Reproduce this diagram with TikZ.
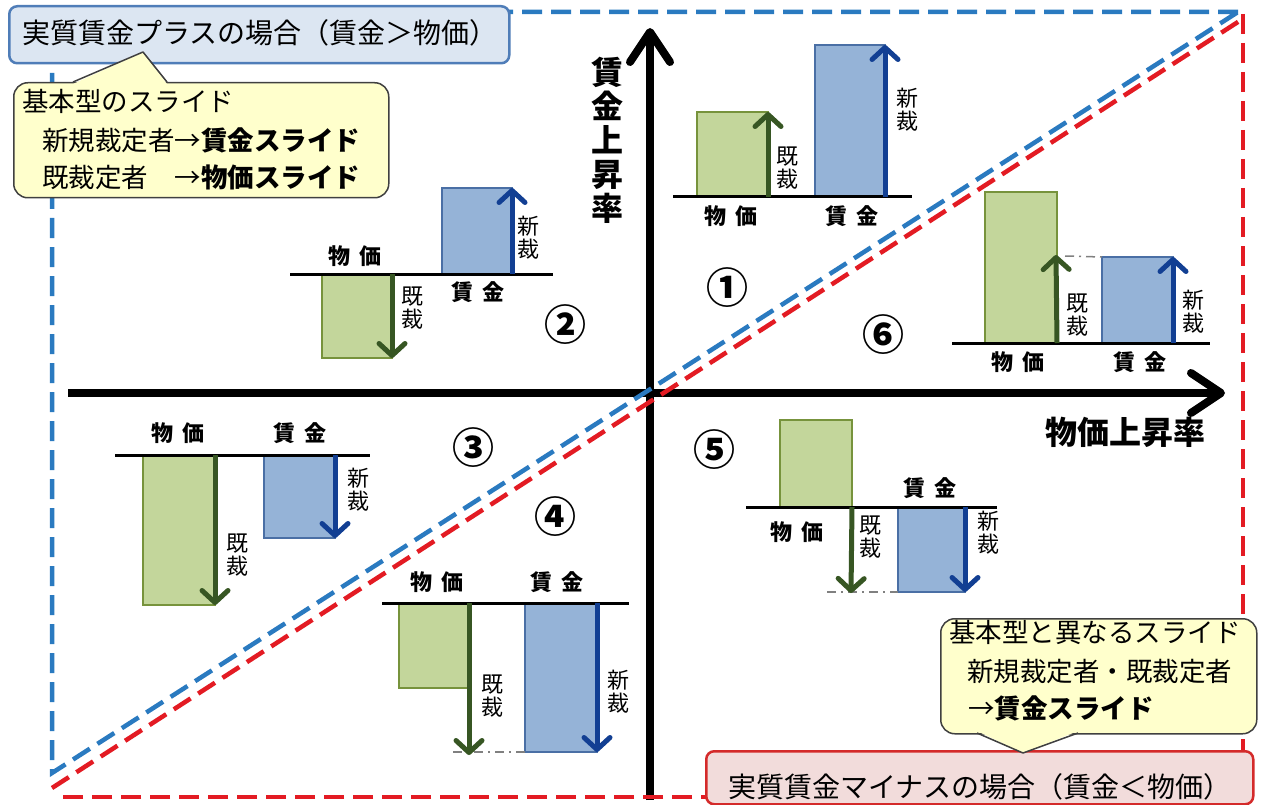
\documentclass[tikz,border=0pt]{standalone}
\usepackage{fontspec}
\setmainfont{Noto Sans CJK JP}
\usetikzlibrary{arrows.meta}
\definecolor{gfill}{HTML}{C3D69B}
\definecolor{gline}{HTML}{77933C}
\definecolor{garr}{HTML}{375623}
\definecolor{bfill}{HTML}{95B3D7}
\definecolor{bline}{HTML}{4A6FA5}
\definecolor{barr}{HTML}{123F93}
\definecolor{dblue}{HTML}{2A7AC0}
\definecolor{dred}{HTML}{E31B23}
\definecolor{boxblue}{HTML}{DCE6F2}
\definecolor{boxblueline}{HTML}{4F7DB8}
\definecolor{callfill}{HTML}{FFFFCC}
\definecolor{callline}{HTML}{404040}
\definecolor{pinkfill}{HTML}{F2DCDB}
\definecolor{pinkline}{HTML}{D42A2A}
\tikzset{
  gbar/.style={fill=gfill, draw=gline, line width=2.5, inner sep=0, outer sep=0},
  bbar/.style={fill=bfill, draw=bline, line width=1.5, inner sep=0, outer sep=0},
  garrow/.style={draw=garr, line width=5, -{Straight Barb[length=12pt,width=26pt,round]}},
  barrow/.style={draw=barr, line width=5, -{Straight Barb[length=12pt,width=26pt,round]}},
  baseln/.style={line width=3, black},
  refln/.style={gray, line width=1.5, dash pattern=on 9pt off 5pt on 2pt off 5pt},
  clbl/.style={font=\bfseries\fontsize{22}{22}\selectfont, inner sep=0},
  vlbl/.style={font=\fontsize{22}{23}\selectfont, align=center, inner sep=0},
  num/.style={font=\bfseries\fontsize{42}{42}\selectfont, inner sep=0},
  axis/.style={line width=8, -{Straight Barb[length=30pt,width=40pt,round]}},
  axlbl/.style={font=\bfseries\fontsize{32}{34}\selectfont, align=center, inner sep=0},
  callout/.style={fill=callfill, draw=callline, line width=1.5, rounded corners=14, inner sep=0},
  ctext/.style={font=\fontsize{26.5}{30}\selectfont, inner sep=0, anchor=west},
  titlebox/.style={rounded corners=8, line width=2.5, inner sep=0},
  ttext/.style={font=\fontsize{28}{30}\selectfont, inner sep=0},
  bluedash/.style={dblue, line width=4.5, dash pattern=on 20pt off 9pt},
  reddash/.style={dred, line width=4.5, dash pattern=on 20pt off 9pt},
}
\begin{document}
\begin{tikzpicture}[x=1pt,y=-1pt]
\useasboundingbox (0,0) rectangle (1266,805);
\fill[white] (0,0) rectangle (1266,805);

% main axes
\coordinate (xl) at (68,393);
\coordinate (xr) at (1225,393);
\coordinate (yb) at (650,800);
\coordinate (yt) at (650,28);
\draw[axis] (xl) -- (xr);
\draw[axis] (yb) -- (yt);
\node[axlbl] (ylab) at (607,140) {賃\\金\\上\\昇\\率};
\node[axlbl] (xlab) at (1125,432) {物価上昇率};

% dashed triangles
\draw[bluedash] (1238,12) -- (52,12) -- (52,773) -- cycle;
\draw[reddash] (1243,14) -- (1243,797) -- (60,797);
\draw[reddash] (52,788) -- (1241,20);

% quadrant numbers
\node[num] (n1) at (727,288) {①};
\node[num] (n2) at (565,325) {②};
\node[num] (n3) at (473,448) {③};
\node[num] (n4) at (555,517) {④};
\node[num] (n5) at (714,450) {⑤};
\node[num] (n6) at (883,335) {⑥};

% chart 1
\node[gbar, minimum width=71, minimum height=85, anchor=south west] (g1) at (697,197) {};
\node[bbar, minimum width=70, minimum height=152, anchor=south west] (b1) at (815,197) {};
\draw[baseln] (673,197) -- (912,197);
\draw[garrow] (g1.south east) -- (g1.north east);
\draw[barrow] (b1.south east) -- (b1.north east);
\node[clbl] (l1a) at (731,216) {物\hspace{9pt}価};
\node[clbl] (l1b) at (852,216) {賃\hspace{9pt}金};
\node[vlbl] (v1a) at (787,168) {既\\裁};
\node[vlbl] (v1b) at (907,110) {新\\裁};

% chart 2
\node[gbar, minimum width=70, minimum height=84, anchor=north west] (g2) at (322,274) {};
\node[bbar, minimum width=70, minimum height=86, anchor=south west] (b2) at (442,274) {};
\draw[baseln] (290,274) -- (553,274);
\draw[garrow] (g2.north east) -- (g2.south east);
\draw[barrow] (b2.south east) -- (b2.north east);
\node[clbl] (l2a) at (355,256) {物\hspace{9pt}価};
\node[clbl] (l2b) at (478,292) {賃\hspace{9pt}金};
\node[vlbl] (v2a) at (412,308) {既\\裁};
\node[vlbl] (v2b) at (528,238) {新\\裁};

% chart 3
\node[gbar, minimum width=72, minimum height=150, anchor=north west] (g3) at (143,455) {};
\node[bbar, minimum width=71, minimum height=83, anchor=north west] (b3) at (264,455) {};
\draw[baseln] (115,455) -- (370,455);
\draw[garrow] (g3.north east) -- (g3.south east);
\draw[barrow] (b3.north east) -- (b3.south east);
\node[clbl] (l3a) at (178,433) {物\hspace{9pt}価};
\node[clbl] (l3b) at (300,433) {賃\hspace{9pt}金};
\node[vlbl] (v3a) at (237,555) {既\\裁};
\node[vlbl] (v3b) at (358,490) {新\\裁};

% chart 4
\node[gbar, minimum width=70, minimum height=85, anchor=north west] (g4) at (399,603) {};
\node[bbar, minimum width=72, minimum height=149, anchor=north west] (b4) at (525,603) {};
\coordinate (g4end) at (469,755);
\coordinate (r4) at (453,752);
\draw[refln] (r4) -- (b4.south west);
\draw[baseln] (382,603) -- (629,603);
\draw[garrow] (g4.north east) -- (g4end);
\draw[barrow] (b4.north east) -- (b4.south east);
\node[clbl] (l4a) at (437,582) {物\hspace{9pt}価};
\node[clbl] (l4b) at (557,582) {賃\hspace{9pt}金};
\node[vlbl] (v4a) at (492,696) {既\\裁};
\node[vlbl] (v4b) at (618,692) {新\\裁};

% chart 5
\node[gbar, minimum width=72, minimum height=87, anchor=south west] (g5) at (780,507) {};
\node[bbar, minimum width=67, minimum height=85, anchor=north west] (b5) at (898,507) {};
\coordinate (g5end) at (851,593);
\coordinate (r5) at (827,592);
\draw[refln] (r5) -- (b5.south west);
\draw[baseln] (746,507) -- (997,507);
\draw[garrow] (g5.south east) -- (g5end);
\draw[barrow] (b5.north east) -- (b5.south east);
\node[clbl] (l5a) at (797,532) {物\hspace{9pt}価};
\node[clbl] (l5b) at (930,488) {賃\hspace{9pt}金};
\node[vlbl] (v5a) at (870,537) {既\\裁};
\node[vlbl] (v5b) at (988,533) {新\\裁};

% chart 6
\node[gbar, minimum width=72, minimum height=151, anchor=south west] (g6) at (985,343) {};
\node[bbar, minimum width=71, minimum height=86, anchor=south west] (b6) at (1102,343) {};
\coordinate (g6end) at (1056,255);
\coordinate (r6) at (1065,256);
\draw[refln] (r6) -- (b6.north west);
\draw[baseln] (952,343) -- (1210,343);
\draw[garrow] (g6.south east) -- (g6end);
\draw[barrow] (b6.south east) -- (b6.north east);
\node[clbl] (l6a) at (1018,362) {物\hspace{9pt}価};
\node[clbl] (l6b) at (1140,362) {賃\hspace{9pt}金};
\node[vlbl] (v6a) at (1077,315) {既\\裁};
\node[vlbl] (v6b) at (1193,312) {新\\裁};

% top-left title box
\node[titlebox, fill=boxblue, draw=boxblueline, minimum width=500, minimum height=57, anchor=north west] (tb) at (8,5) {};
\node[ttext] (tbt) at (260,33) {実質賃金プラスの場合（賃金＞物価）};

% callout 1
\node[callout, minimum width=375, minimum height=115, anchor=north west] (c1) at (13,82) {};
\fill[callfill] (73,84) -- (143,52) -- (167,84) -- cycle;
\draw[callline, line width=1.5, line join=round] (73,82) -- (143,52) -- (167,82);
\node[ctext] (c1a) at (22,101) {基本型のスライド};
\node[ctext] (c1b) at (42,140) {新規裁定者→{\bfseries 賃金スライド}};
\node[ctext] (c1c) at (42,177) {既裁定者　→{\bfseries 物価スライド}};

% bottom pink box
\node[titlebox, fill=pinkfill, draw=pinkline, minimum width=547, minimum height=53, anchor=north west] (pb) at (705,750) {};

% callout 2
\node[callout, minimum width=316, minimum height=115, anchor=north west] (c2) at (940,618) {};
\fill[callfill] (977,731) -- (1023,753) -- (1078,731) -- cycle;
\draw[callline, line width=1.5, line join=round] (977,733) -- (1023,753) -- (1078,733);
\node[ctext] (c2a) at (949,632) {基本型と異なるスライド};
\node[ctext] (c2b) at (967,671) {新規裁定者・既裁定者};
\node[ctext] (c2c) at (968,708) {→{\bfseries 賃金スライド}};

\node[ttext] (pbt) at (980,787) {実質賃金マイナスの場合（賃金＜物価）};
\end{tikzpicture}
\end{document}
